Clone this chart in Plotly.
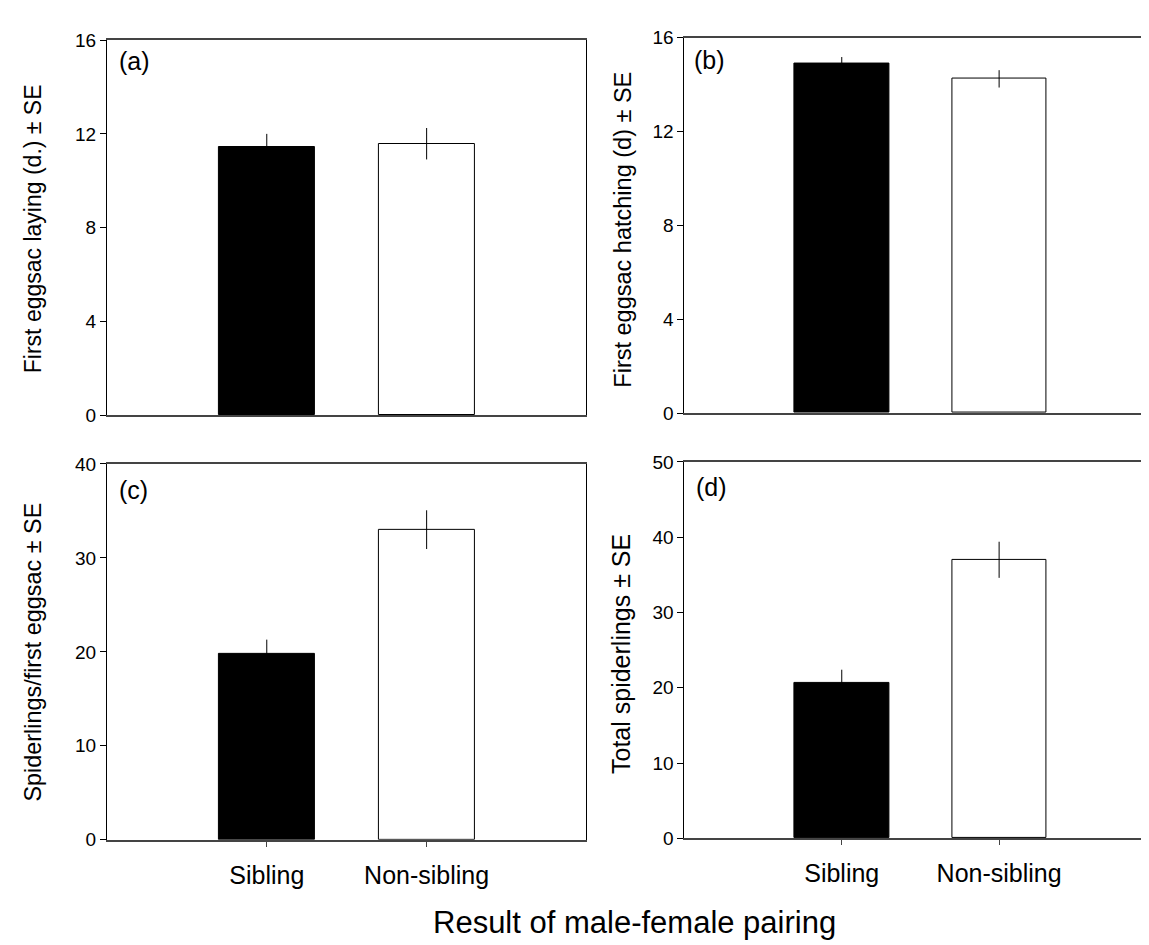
import plotly.graph_objects as go

# ---- data ----
categories = ["Sibling", "Non-sibling"]
bar_colors = ["black", "white"]

laying_mean = [11.45, 11.58]
laying_se = [0.55, 0.67]

hatching_mean = [14.90, 14.24]
hatching_se = [0.27, 0.37]

spider_first_mean = [19.8, 33.0]
spider_first_se = [1.5, 2.06]

total_mean = [20.7, 37.0]
total_se = [1.7, 2.4]

panel_letters = ["(a)", "(b)", "(c)", "(d)"]
y_titles = [
    "First eggsac laying (d.) ± SE",
    "First eggsac hatching (d) ± SE",
    "Spiderlings/first eggsac ± SE",
    "Total spiderlings ± SE",
]
y_ticks = [[0, 4, 8, 12, 16], [0, 4, 8, 12, 16], [0, 10, 20, 30, 40], [0, 10, 20, 30, 40, 50]]
x_title = "Result of male-female pairing"

W, H = 1149, 945
FONT = "Liberation Sans, Arial, sans-serif"

fig = go.Figure()

means = [laying_mean, hatching_mean, spider_first_mean, total_mean]
ses = [laying_se, hatching_se, spider_first_se, total_se]

# panel pixel boxes: left, right, top, bottom
boxes = [
    (99, 579, 22.5, 406.5),
    (677, 1149, 20, 404),
    (99, 579, 456, 840.5),
    (677, 1149, 454, 839),
]
xranges = [[-1, 2], [-1, 1.997], [-1, 2], [-1, 1.997]]

for i in range(4):
    n = "" if i == 0 else str(i + 1)
    fig.add_trace(go.Bar(
        x=categories, y=means[i],
        marker=dict(color=bar_colors, line=dict(color="black", width=1)),
        width=0.6,
        error_y=dict(type="data", array=ses[i], symmetric=True,
                     color="black", thickness=1, width=0),
        xaxis="x" + n, yaxis="y" + n, showlegend=False,
    ))
    l, r, t, b = boxes[i]
    show_x = i >= 2
    fig.layout["xaxis" + n] = dict(
        domain=[l / W, min(r / W, 1.0)], anchor="y" + n,
        type="category", range=xranges[i],
        showline=True, linecolor="#444", linewidth=2, mirror=True,
        showgrid=False, zeroline=False,
        ticks="outside" if show_x else "", ticklen=5, tickcolor="#444",
        showticklabels=show_x,
        tickfont=dict(family=FONT, size=25, color="black"),
        ticklabelstandoff=7,
    )
    fig.layout["yaxis" + n] = dict(
        domain=[1 - b / H, 1 - t / H], anchor="x" + n,
        range=[0, y_ticks[i][-1]], tickvals=y_ticks[i],
        showline=True, linecolor="black", linewidth=1, mirror=True,
        showgrid=False, zeroline=False,
        ticks="outside", ticklen=6, tickcolor="black",
        tickfont=dict(family=FONT, size=19, color="black"),
    )

annotations = []
label_pos = [(109, 44), (685, 42.5), (109, 483), (687, 480)]
for i, (px, py) in enumerate(label_pos):
    annotations.append(dict(
        text=panel_letters[i], xref="paper", yref="paper",
        x=px / W, y=1 - py / H, xanchor="left", yanchor="middle",
        showarrow=False, font=dict(family=FONT, size=25, color="black"),
    ))

title_pos = [(25, 215, 23), (616, 216, 23.5), (25, 648, 23.4), (613, 650, 25)]
for i, (px, py, fs) in enumerate(title_pos):
    annotations.append(dict(
        text=y_titles[i], xref="paper", yref="paper",
        x=px / W, y=1 - py / H, xanchor="center", yanchor="middle",
        textangle=-90, showarrow=False,
        font=dict(family=FONT, size=fs, color="black"),
    ))

annotations.append(dict(
    text=x_title, xref="paper", yref="paper",
    x=627 / W, y=1 - 925 / H, xanchor="center", yanchor="middle",
    showarrow=False, font=dict(family=FONT, size=31, color="black"),
))

fig.update_layout(
    width=W, height=H,
    margin=dict(l=0, r=0, t=0, b=0),
    paper_bgcolor="white", plot_bgcolor="white",
    annotations=annotations,
    bargap=0,
)

fig.write_html("out.html")
